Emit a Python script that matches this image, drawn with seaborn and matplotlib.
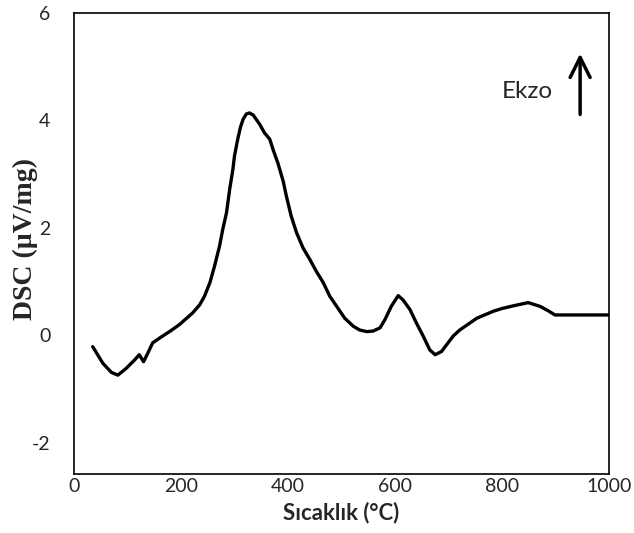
import pandas as pd
import seaborn as sns
import matplotlib.pyplot as plt

# values
temp = [35, 54, 70, 82, 98, 113, 122, 130, 138, 147, 163, 180, 197, 222,
        235, 244, 254, 263, 272, 278, 285, 291, 297, 300, 306, 311, 316,
        322, 328, 335, 347, 356, 366, 372, 381, 391, 397, 406, 416, 428,
        441, 453, 466, 478, 491, 506, 522, 534, 547, 559, 572, 581, 593,
        606, 615, 628, 640, 653, 665, 675, 687, 696, 709, 721, 753, 784,
        800, 821, 849, 871, 886, 899, 1000]
dsc = [-0.21, -0.52, -0.69, -0.74, -0.61, -0.46, -0.36, -0.49, -0.33, -0.14,
       -0.03, 0.08, 0.20, 0.42, 0.57, 0.73, 0.98, 1.30, 1.66, 1.97, 2.28,
       2.72, 3.09, 3.34, 3.65, 3.87, 4.02, 4.12, 4.14, 4.10, 3.93, 3.77,
       3.65, 3.46, 3.21, 2.87, 2.59, 2.22, 1.91, 1.63, 1.41, 1.19, 0.98,
       0.73, 0.54, 0.32, 0.17, 0.10, 0.07, 0.08, 0.14, 0.29, 0.54, 0.74,
       0.66, 0.48, 0.23, -0.02, -0.27, -0.36, -0.30, -0.18, -0.01, 0.10,
       0.32, 0.45, 0.50, 0.55, 0.61, 0.54, 0.46, 0.38, 0.38]

x_ticks = [0, 200, 400, 600, 800, 1000]
y_ticks = [-2, 0, 2, 4, 6]

df = pd.DataFrame({"T": temp, "DSC": dsc})

sns.set_style("white")
plt.rcParams['font.family'] = ['Lato', 'DejaVu Sans']
plt.rcParams['axes.unicode_minus'] = False

fig = plt.figure(figsize=(6.34, 5.33), dpi=100)
ax = fig.add_axes([0.1167, 0.1107, 0.8439, 0.8649])

sns.lineplot(data=df, x="T", y="DSC", color="black", linewidth=2.4, ax=ax)
ax.lines[0].set_solid_joinstyle("round")

ax.set_xlim(0, 1000)
ax.set_ylim(-2.58, 6)
ax.set_xticks(x_ticks)
ax.set_yticks(y_ticks)
ax.tick_params(axis="both", length=0, labelsize=14)
ax.tick_params(axis="x", pad=3)
ax.tick_params(axis="y", pad=17)
for s in ax.spines.values():
    s.set_color("black")
    s.set_linewidth(1.2)

ax.set_xlabel("Sıcaklık (°C)", fontsize=16, fontweight="bold", labelpad=5)
ax.set_ylabel("DSC (µV/mg)", fontsize=20, fontweight="bold",
              family=["Liberation Serif", "DejaVu Serif"])
ax.yaxis.set_label_coords(-0.068, 0.51)

ax.text(0.895, 0.83, "Ekzo", transform=ax.transAxes, fontsize=17.5,
        ha="right", va="center")
ax.annotate("", xy=(0.946, 0.918), xytext=(0.946, 0.774),
            xycoords="axes fraction",
            arrowprops=dict(arrowstyle="->", color="black", lw=2.5,
                            mutation_scale=36))

fig.savefig("out.png", dpi=100)
